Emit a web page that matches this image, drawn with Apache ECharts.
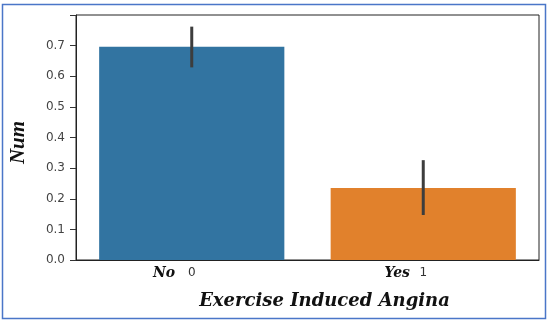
<!DOCTYPE html>
<html><head><meta charset="utf-8">
<script src="https://cdn.jsdelivr.net/npm/echarts@6/dist/echarts.min.js"></script>
<style>html,body{margin:0;padding:0;background:#fff}#c{width:550px;height:325px}</style>
</head><body><div id="c"></div>
<script>
var categories = ['0', '1'];
var groupNames = ['No', 'Yes'];
var values = [0.696, 0.235];
var errLow = [0.629, 0.147];
var errHigh = [0.762, 0.326];
var barColors = ['#3274a1', '#e1812c'];
var yTicks = [0, 0.1, 0.2, 0.3, 0.4, 0.5, 0.6, 0.7];

var chart = echarts.init(document.getElementById('c'));
chart.setOption({
  animation: false,
  graphic: [{
    type: 'rect', shape: {x: 2.5, y: 4.5, width: 543, height: 314},
    style: {fill: 'none', stroke: '#4a76c8', lineWidth: 1.5}, z: 100
  }],
  grid: {left: 74, top: 15, right: 11, bottom: 65, show: true, borderColor: '#222', borderWidth: 1},
  xAxis: {
    type: 'category', data: categories,
    axisLine: {lineStyle: {color: '#222'}},
    axisTick: {alignWithLabel: true, length: 5, lineStyle: {color: '#333'}},
    axisLabel: {
      margin: 6,
      formatter: function (v, i) { return '{a|' + groupNames[i] + '}{b|' + v + '}{c|}'; },
      rich: {
        a: {fontFamily: 'DejaVu Serif', fontStyle: 'italic', fontWeight: 'bold', fontSize: 14, color: '#111', width: 35, align: 'left'},
        b: {fontFamily: 'DejaVu Sans', fontSize: 12, color: '#333'},
        c: {width: 35}
      }
    },
    name: 'Exercise Induced Angina', nameLocation: 'middle', nameGap: 32,
    nameTextStyle: {fontFamily: 'DejaVu Serif', fontStyle: 'italic', fontWeight: 'bold', fontSize: 18, color: '#111', padding: [0, 0, 0, 34]}
  },
  yAxis: {
    type: 'value', min: 0, max: 0.8, interval: 0.1,
    splitLine: {show: false},
    axisLine: {show: true, lineStyle: {color: '#222'}},
    axisTick: {show: true, length: 6, lineStyle: {color: '#333'}},
    axisLabel: {
      margin: 11, fontFamily: 'DejaVu Sans', fontSize: 12, color: '#444',
      formatter: function (v) { return yTicks.some(function (t) { return Math.abs(t - v) < 1e-9; }) ? v.toFixed(1) : ''; }
    },
    name: 'Num', nameLocation: 'middle', nameGap: 47, nameRotate: 90,
    nameTextStyle: {fontFamily: 'Liberation Serif', fontStyle: 'italic', fontWeight: 'bold', fontSize: 21, color: '#111', padding: [0, 10, 0, 0]}
  },
  series: [{
    type: 'bar', barWidth: '80%',
    data: values.map(function (v, i) { return {value: v, itemStyle: {color: barColors[i]}}; })
  }, {
    type: 'custom',
    data: categories.map(function (c, i) { return [i, errLow[i], errHigh[i]]; }),
    renderItem: function (params, api) {
      var p1 = api.coord([api.value(0), api.value(1)]);
      var p2 = api.coord([api.value(0), api.value(2)]);
      return {type: 'line', shape: {x1: p1[0], y1: p1[1], x2: p2[0], y2: p2[1]},
        style: {stroke: '#3d3d3d', lineWidth: 3}};
    },
    z: 10
  }]
});
</script></body></html>
